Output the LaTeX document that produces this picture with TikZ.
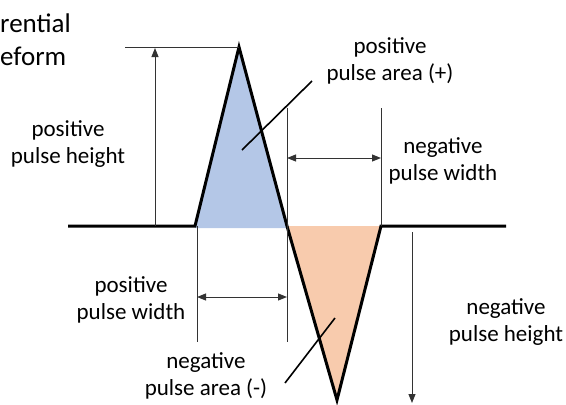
\documentclass[tikz,border=0pt]{standalone}
\usepackage{fontspec}
\setmainfont{Carlito}
\usepackage{xcolor}
\usetikzlibrary{arrows.meta,positioning}
\definecolor{posblue}{HTML}{B4C7E7}
\definecolor{negorange}{HTML}{F8CBAD}
\tikzstyle{wave} = [line width=3pt, line join=miter, line cap=butt]
\tikzstyle{dimline} = [line width=1pt, draw=black!80]
\tikzstyle{arrow} = [dimline, -{Triangle[length=9pt,width=7pt]}]
\tikzstyle{dblarrow} = [dimline, {Triangle[length=9pt,width=7pt]}-{Triangle[length=9pt,width=7pt]}]
\tikzstyle{leader} = [line width=1.6pt, black]
\tikzstyle{txt} = [align=center, font=\fontsize{23}{27}\selectfont]

\begin{document}
\begin{tikzpicture}[x=1pt, y=-1pt]
    \useasboundingbox (0,0) rectangle (566,405);
    % waveform corners
    \coordinate (left) at (68,226);
    \coordinate (posL) at (195,226);
    \coordinate (posTop) at (239,47);
    \coordinate (mid) at (287,226);
    \coordinate (negBot) at (337,400);
    \coordinate (negR) at (381,226);
    \coordinate (right) at (506,226);
    \fill[posblue] (posL) -- (posTop) -- (mid) -- ++(0,2) -- ++(-92,0) -- cycle;
    \fill[negorange] (mid) -- (negBot) -- (negR) -- cycle;
    \draw[wave] (left) -- (posL) -- (posTop) -- (mid) -- (negBot) -- (negR) -- (right);

    % positive pulse height
    \coordinate (phTopL) at (125,47);
    \coordinate (phA) at (155,226);
    \coordinate (phB) at (155,48);
    \draw[dimline] (phTopL) -- (posTop);
    \draw[arrow] (phA) -- (phB);
    \node[txt] (posHeight) at (68,144) {positive\\pulse height};

    % negative pulse width
    \coordinate (nwL) at (287,108);
    \coordinate (nwR) at (381,108);
    \coordinate (nwA) at (287,158);
    \coordinate (nwB) at (381,158);
    \draw[dimline] (mid) -- (nwL);
    \draw[dimline] (negR) -- (nwR);
    \draw[dblarrow] (nwA) -- (nwB);
    \node[txt] (negWidth) at (443,161) {negative\\pulse width};

    % positive pulse width
    \coordinate (pwLt) at (197,226);
    \coordinate (pwLb) at (197,342);
    \coordinate (pwRb) at (287,342);
    \coordinate (pwA) at (197,297);
    \coordinate (pwB) at (287,297);
    \draw[dimline] (pwLt) -- (pwLb);
    \draw[dimline] (mid) -- (pwRb);
    \draw[dblarrow] (pwA) -- (pwB);
    \node[txt] (posWidth) at (131,300) {positive\\pulse width};

    % negative pulse height
    \coordinate (nhA) at (412,232);
    \coordinate (nhB) at (412,403);
    \draw[arrow] (nhA) -- (nhB);
    \node[txt] (negHeight) at (506,322) {negative\\pulse height};

    % pulse areas
    \coordinate (paIn) at (242,150);
    \coordinate (paOut) at (312,81);
    \draw[leader] (paIn) -- (paOut);
    \node[txt] (posArea) at (390,61) {positive\\pulse area (+)};
    \coordinate (naIn) at (335,318);
    \coordinate (naOut) at (285,383);
    \draw[leader] (naIn) -- (naOut);
    \node[txt] (negArea) at (206,376) {negative\\pulse area (-)};

    % cut title
    \node[anchor=base west, inner sep=0pt, font=\fontsize{27}{33}\selectfont] (title1) at (0,32) {rential};
    \node[anchor=base west, inner sep=0pt, font=\fontsize{27}{33}\selectfont] (title2) at (0,65) {eform};
\end{tikzpicture}
\end{document}
